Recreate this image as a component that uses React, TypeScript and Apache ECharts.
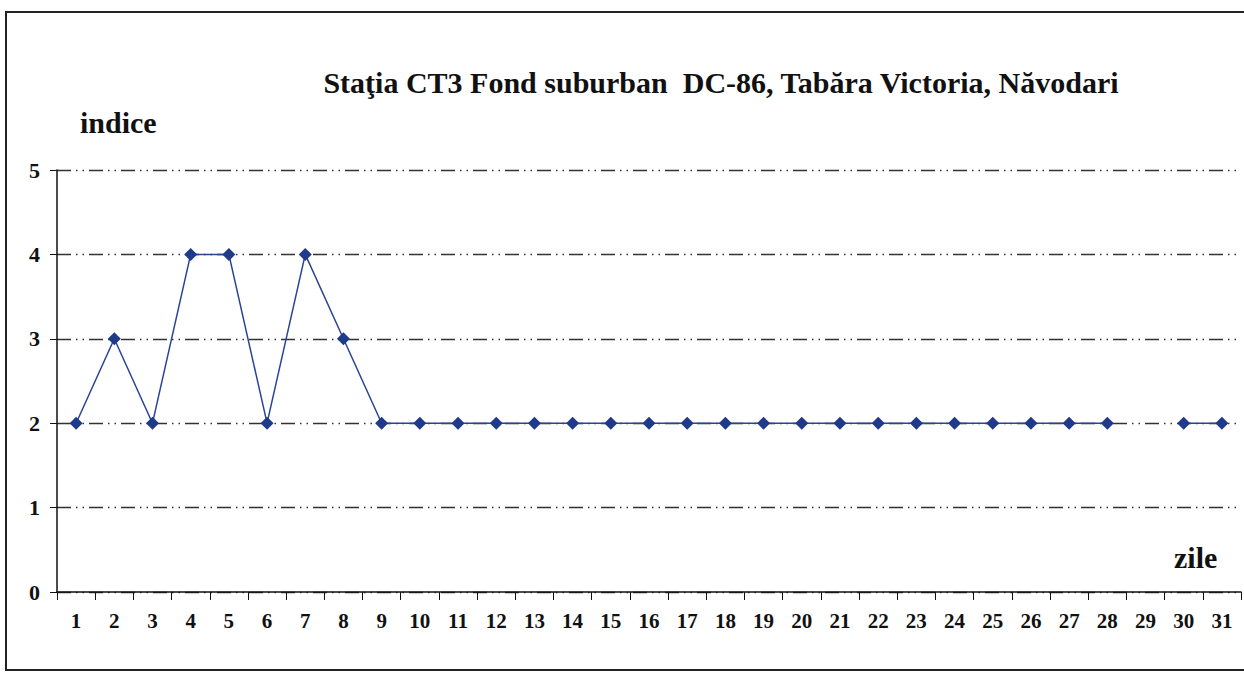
import React, { useEffect, useRef } from "react";
import * as echarts from "echarts";

const TITLE = "Staţia CT3 Fond suburban  DC-86, Tabăra Victoria, Năvodari";
const Y_NAME = "indice";
const X_NAME = "zile";
const days = Array.from({ length: 31 }, (_, i) => String(i + 1));
const indexValues: (number | null)[] = [
  2, 3, 2, 4, 4, 2, 4, 3, 2, 2, 2, 2, 2, 2, 2, 2, 2, 2, 2, 2, 2, 2, 2, 2, 2, 2, 2, 2, null, 2, 2,
];

const FONT = "Liberation Serif, Times New Roman, serif";

export default function App() {
  const ref = useRef<HTMLDivElement>(null);
  useEffect(() => {
    document.body.style.margin = "0";
    const chart = echarts.init(ref.current!, null, { renderer: "svg" });
    chart.setOption({
      animation: false,
      backgroundColor: "#ffffff",
      textStyle: { fontFamily: FONT },
      title: {
        text: TITLE,
        left: 716,
        top: 62,
        textAlign: "center",
        textStyle: { fontFamily: FONT, fontSize: 30, fontWeight: "bold", color: "#111" },
      },
      grid: { left: 57, right: 3, top: 170, bottom: 82, containLabel: false },
      xAxis: {
        type: "category",
        data: days,
        boundaryGap: true,
        axisLine: { show: true, lineStyle: { color: "#111", width: 1.5 } },
        axisTick: { show: true, length: 8, alignWithLabel: false, lineStyle: { color: "#111" } },
        axisLabel: {
          fontFamily: FONT,
          fontSize: 21,
          fontWeight: "bold",
          color: "#111",
          margin: 18,
          interval: 0,
        },
        splitLine: { show: false },
      },
      yAxis: {
        type: "value",
        min: 0,
        max: 5,
        interval: 1,
        axisLine: { show: true, lineStyle: { color: "#111", width: 1.5 } },
        axisTick: { show: true, length: 7, lineStyle: { color: "#111" } },
        axisLabel: {
          fontFamily: FONT,
          fontSize: 22,
          fontWeight: "bold",
          color: "#111",
          margin: 17,
        },
        splitLine: {
          show: true,
          lineStyle: { color: "#333", width: 1.3, type: [14, 5, 1.5, 5, 1.5, 5] },
        },
      },
      graphic: [
        {
          type: "rect",
          shape: { x: 6, y: 12, width: 1260, height: 658 },
          style: { fill: "none", stroke: "#222", lineWidth: 2 },
          silent: true,
          z: 100,
        },
        {
          type: "text",
          left: 80,
          top: 107,
          style: { text: Y_NAME, fontFamily: FONT, fontSize: 30, fontWeight: "bold", fill: "#111" },
        },
        {
          type: "text",
          left: 1174,
          top: 542,
          style: { text: X_NAME, fontFamily: FONT, fontSize: 30, fontWeight: "bold", fill: "#111" },
        },
      ],
      series: [
        {
          type: "line",
          data: indexValues,
          connectNulls: false,
          symbol: "diamond",
          symbolSize: 13,
          showSymbol: true,
          itemStyle: { color: "#1f3a8a" },
          lineStyle: { color: "#2a4494", width: 1.5 },
        },
      ],
    });
    return () => chart.dispose();
  }, []);
  return <div ref={ref} style={{ width: 1244, height: 674 }} />;
}
